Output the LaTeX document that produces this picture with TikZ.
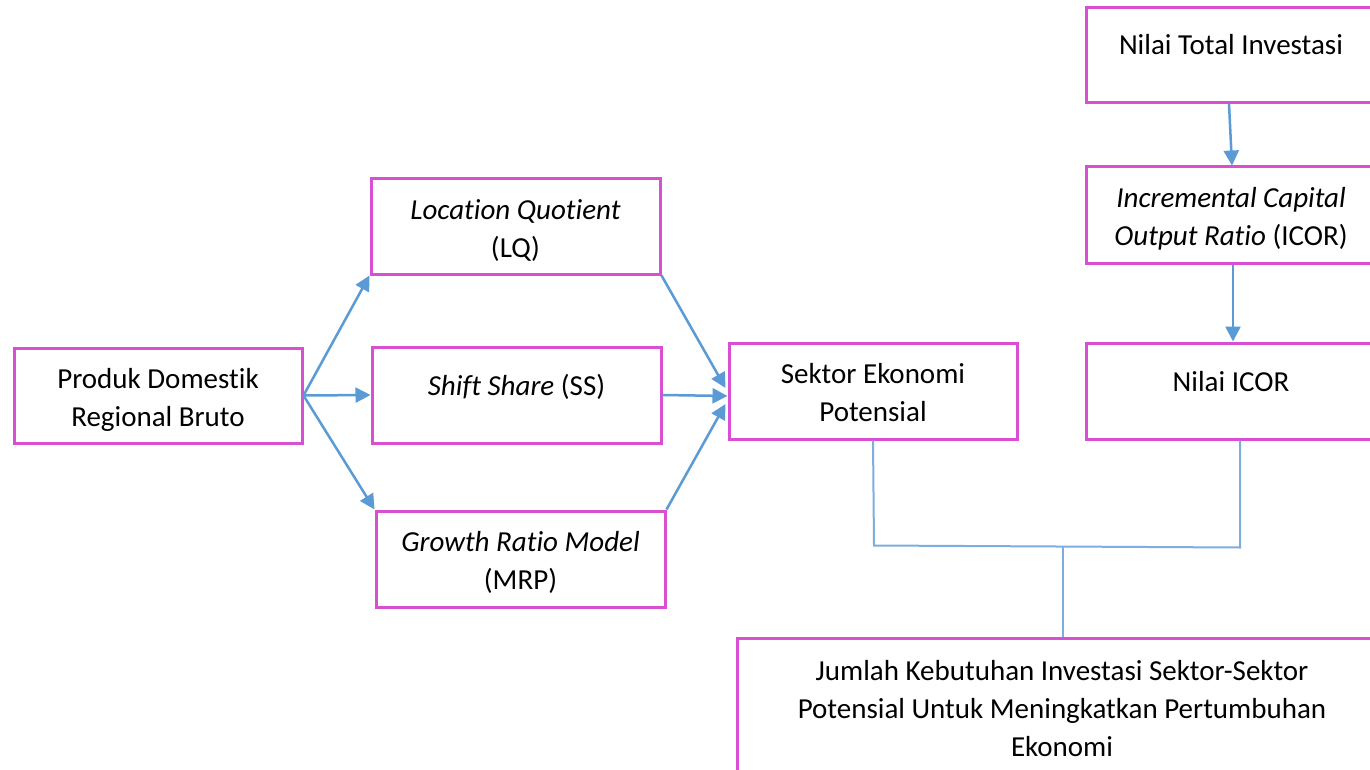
\documentclass[tikz,border=0pt]{standalone}
\usepackage{fontspec}
\setmainfont{Carlito}[Ligatures=NoCommon]
\usetikzlibrary{arrows.meta,calc}
\definecolor{boxmag}{HTML}{D84FD3}
\definecolor{arrblue}{HTML}{5B9BD5}
\definecolor{treeblue}{HTML}{7EAEDF}
\newcommand{\topstrut}{\rule{0pt}{31pt}}
\newcommand{\botstrut}{\rule[-8pt]{0pt}{8pt}}
\begin{document}
\begin{tikzpicture}[x=1pt,y=-1pt,
  box/.style={draw=boxmag,line width=3pt,rectangle,align=center,inner sep=0pt,
    font=\fontsize{29}{38}\selectfont},
  one/.style={text height=18pt,text depth=18pt},
  arr/.style={draw=arrblue,line width=2.5pt,-{Triangle[length=15pt,width=15pt]}},
  tree/.style={draw=treeblue,line width=2pt}]
\useasboundingbox (0,0) rectangle (1370,770);
\clip (0,0) rectangle (1370,770);
\fill[white] (0,0) rectangle (1370,770);

\node[box,minimum width=288,minimum height=95] (pdrb) at (158,395.5) {\topstrut Produk Domestik\\Regional Bruto\botstrut};
\node[box,minimum width=289,minimum height=95] (lq) at (515.5,226.5) {\topstrut\textit{Location Quotient}\\(LQ)\botstrut};
\node[box,one,minimum width=289,minimum height=96] (ss) at (516.5,395) {\textit{Shift Share} (SS)};
\node[box,minimum width=289,minimum height=96] (mrp) at (520.5,559) {\topstrut\textit{Growth Ratio Model}\\(MRP)\botstrut};
\node[box,minimum width=288,minimum height=96] (sep) at (873,391) {\topstrut Sektor Ekonomi\\Potensial\botstrut};
\node[box,one,minimum width=290,minimum height=95] (nti) at (1231,55) {Nilai Total Investasi};
\node[box,minimum width=290,minimum height=96] (icor) at (1231,215) {\topstrut\textit{Incremental Capital}\\\textit{Output Ratio} (ICOR)\botstrut};
\node[box,one,minimum width=290,minimum height=96] (nicor) at (1231,391) {Nilai ICOR};
\node[box,minimum width=650,minimum height=142] (jk) at (1062,709) {Jumlah Kebutuhan Investasi Sektor-Sektor\\Potensial Untuk Meningkatkan Pertumbuhan\\Ekonomi};

\draw[arr] (pdrb.east) -- (lq.south west);
\draw[arr] (pdrb.east) -- (ss.west);
\draw[arr] (pdrb.east) -- (mrp.north west);
\draw[arr] (lq.south east) -- ($(sep.west)+(-2,-3)$);
\draw[arr] (ss.east) -- ($(sep.west)+(0,5)$);
\draw[arr] (mrp.north east) -- ($(sep.west)+(-2,13)$);
\draw[arr] ($(nti.south)+(-2,0)$) -- ($(icor.north)+(1,0)$);
\draw[arr] ($(icor.south)+(2,0)$) -- ($(nicor.north)+(2,0)$);

\coordinate (tl) at ($(sep.south)+(1,105)$);
\coordinate (tr) at ($(nicor.south)+(9,107)$);
\coordinate (tm) at ($(tl -| jk.north)+(1,0)$);
\draw[tree] (sep.south) -- (tl) -- (tr) -- ($(nicor.south)+(9,0)$);
\draw[tree] (tm) -- (tm |- jk.north);
\end{tikzpicture}
\end{document}
